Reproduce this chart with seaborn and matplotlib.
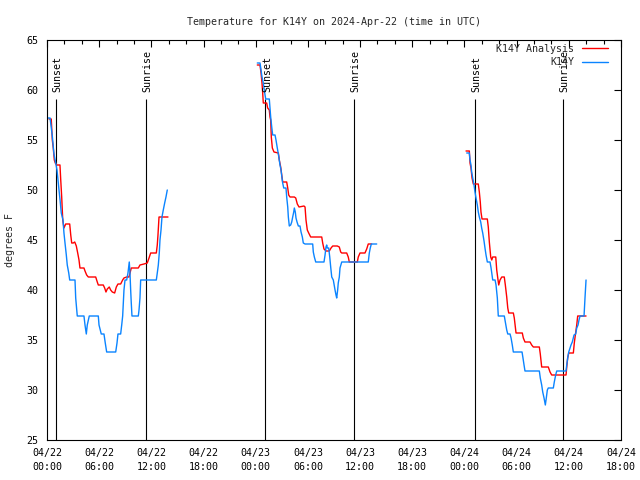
import numpy as np
import pandas as pd
import matplotlib
matplotlib.use("Agg")
import matplotlib.pyplot as plt
import matplotlib.transforms as mtransforms
from matplotlib.ticker import MultipleLocator
import seaborn as sns

# ---------------- data (hours since 04/22 00:00 UTC, degrees F) ----------------
obs_t1 = [0.12, 0.35, 0.61, 0.80, 1.00, 1.15, 1.38, 1.50, 1.64, 1.84, 1.95, 2.07, 2.22, 2.33, 2.50, 2.61,
          3.22, 3.30, 3.48, 4.25, 4.37, 4.52, 4.63, 4.86, 5.90, 5.98, 6.24, 6.55, 6.70, 6.86, 7.90, 8.05,
          8.16, 8.47, 8.59, 8.70, 8.85, 8.97, 9.16, 9.31, 9.46, 9.54, 9.62, 9.69, 9.77, 10.50, 10.58, 10.69,
          10.77, 12.57, 12.68, 12.80, 12.91, 12.99, 13.11, 13.22, 13.37, 13.53, 13.68, 13.83]
obs_v1 = [57.2, 57.2, 55.4, 53.6, 52.7, 52.0, 50.0, 49.0, 47.7, 47.0, 45.7, 44.7, 43.5, 42.5, 41.7, 41.0,
          41.0, 39.2, 37.4, 37.4, 36.5, 35.6, 36.5, 37.4, 37.4, 36.5, 35.6, 35.6, 34.7, 33.8, 33.8, 34.7,
          35.6, 35.6, 36.5, 37.4, 40.0, 41.0, 41.0, 41.7, 42.8, 41.7, 40.0, 38.7, 37.4, 37.4, 38.0, 39.2,
          41.0, 41.0, 41.7, 42.5, 43.7, 45.0, 46.0, 47.3, 48.0, 48.7, 49.3, 50.0]

ana_t1 = [0.23, 0.49, 0.61, 0.72, 0.84, 0.95, 1.12, 1.49, 1.58, 1.69, 1.81, 1.95, 2.15, 2.61, 2.73, 2.84,
          3.02, 3.19, 3.37, 3.53, 3.68, 3.79, 4.25, 4.37, 4.56, 4.75, 5.60, 5.78, 5.90, 6.47, 6.63, 6.78,
          6.93, 7.16, 7.32, 7.51, 7.78, 7.97, 8.16, 8.47, 8.70, 8.85, 9.16, 9.43, 9.69, 10.50, 10.69, 11.15,
          11.53, 11.73, 11.92, 12.57, 12.68, 12.76, 12.88, 13.91]
ana_v1 = [57.1, 57.1, 55.0, 54.2, 53.0, 52.7, 52.5, 52.5, 51.0, 49.3, 47.0, 46.2, 46.6, 46.6, 45.5, 44.7,
          44.7, 44.8, 44.4, 43.7, 43.0, 42.2, 42.2, 41.9, 41.5, 41.3, 41.3, 40.8, 40.5, 40.5, 40.2, 39.8,
          40.1, 40.3, 40.0, 39.8, 39.7, 40.3, 40.6, 40.6, 41.0, 41.2, 41.3, 41.3, 42.2, 42.2, 42.5, 42.6,
          42.7, 43.2, 43.7, 43.7, 44.5, 45.5, 47.3, 47.3]

obs_t2 = [24.18, 24.49, 24.61, 24.72, 24.87, 24.99, 25.07, 25.15, 25.56, 25.64, 25.72, 25.84, 25.95, 26.22,
          26.33, 26.48, 26.64, 26.79, 26.91, 27.02, 27.10, 27.22, 27.48, 27.56, 27.68, 27.75, 27.86, 28.02,
          28.14, 28.25, 28.37, 28.44, 28.55, 28.63, 28.75, 28.90, 29.09, 29.21, 29.36, 29.47, 29.67, 30.55,
          30.62, 30.74, 30.90, 31.85, 31.97, 32.08, 32.16, 32.23, 32.39, 32.51, 32.62, 32.74, 32.92, 33.12,
          33.23, 33.31, 33.42, 33.49, 33.61, 33.69, 33.89, 36.94, 37.06, 37.17, 37.29, 37.91]
obs_v2 = [62.7, 62.7, 62.0, 61.3, 60.7, 60.0, 59.5, 59.1, 59.1, 58.2, 57.3, 56.3, 55.5, 55.5,
          55.0, 54.2, 53.4, 52.5, 52.0, 51.2, 50.7, 50.2, 50.2, 49.3, 48.3, 47.3, 46.4, 46.5,
          46.8, 47.3, 47.8, 48.2, 47.8, 47.2, 46.8, 46.4, 46.4, 45.8, 45.3, 44.7, 44.6, 44.6,
          43.8, 43.3, 42.8, 42.8, 43.5, 44.3, 44.5, 44.2, 44.2, 43.3, 42.3, 41.3, 41.0, 40.0,
          39.5, 39.2, 40.0, 40.7, 41.3, 42.2, 42.8, 42.8, 43.7, 44.2, 44.6, 44.6]

ana_t2 = [24.18, 24.49, 24.61, 24.72, 24.80, 24.87, 25.26, 25.37, 25.56, 25.64, 25.72, 25.79, 25.91, 26.10,
          26.60, 26.71, 26.87, 26.99, 27.10, 27.56, 27.68, 27.79, 27.94, 28.44, 28.60, 28.78, 28.98, 29.55,
          29.67, 29.78, 29.93, 30.09, 30.32, 31.59, 31.70, 31.85, 32.08, 32.46, 32.66, 32.85, 33.38, 33.61,
          33.77, 33.89, 34.46, 34.64, 34.76, 35.22, 35.68, 35.79, 35.99, 36.56, 36.76, 36.94, 37.33]
ana_v2 = [62.5, 62.5, 61.7, 60.7, 59.7, 58.7, 58.7, 58.2, 58.0, 57.3, 57.0, 55.3, 54.2, 53.8,
          53.7, 53.0, 52.3, 51.5, 50.8, 50.8, 50.2, 49.5, 49.3, 49.3, 49.2, 48.6, 48.3, 48.4,
          48.3, 47.0, 46.0, 45.7, 45.3, 45.3, 44.7, 44.1, 43.9, 43.9, 44.2, 44.4, 44.4, 44.3,
          43.8, 43.7, 43.7, 43.3, 42.8, 42.8, 42.8, 43.3, 43.7, 43.7, 44.1, 44.6, 44.6]

obs_t3 = [48.26, 48.56, 48.64, 48.75, 48.83, 48.95, 49.10, 49.21, 49.33, 49.48, 49.59, 49.71, 49.87, 49.98,
          50.10, 50.25, 50.36, 50.48, 50.63, 50.94, 51.06, 51.14, 51.25, 51.52, 51.63, 51.78, 51.89, 52.58,
          52.70, 52.86, 52.98, 53.24, 53.36, 53.50, 53.62, 54.62, 54.73, 54.85, 54.96, 56.61, 56.72, 56.88,
          57.00, 57.15, 57.30, 57.41, 57.53, 57.64, 58.22, 58.33, 58.49, 58.61, 59.68, 59.76, 59.87, 59.99,
          60.14, 60.25, 60.40, 60.60, 60.79, 60.91, 61.06, 61.17, 61.29, 61.75, 61.86, 61.98]
obs_v3 = [53.7, 53.7, 53.0, 52.5, 51.8, 51.2, 50.5, 49.8, 49.2, 48.5, 47.8, 47.3, 46.8, 46.2,
          45.7, 44.9, 44.2, 43.5, 42.8, 42.8, 42.2, 41.7, 41.0, 41.0, 40.5, 39.2, 37.4, 37.4,
          36.8, 36.0, 35.6, 35.6, 35.2, 34.5, 33.8, 33.8, 33.2, 32.5, 31.9, 31.9, 31.2, 30.5,
          29.8, 29.2, 28.5, 29.2, 30.0, 30.2, 30.2, 30.8, 31.5, 31.9, 31.9, 32.5, 33.2, 33.8,
          34.2, 34.5, 34.8, 35.5, 35.6, 36.2, 36.5, 37.0, 37.4, 37.4, 39.2, 41.0]

ana_t3 = [48.18, 48.56, 48.64, 48.75, 48.87, 49.02, 49.59, 49.71, 49.82, 49.90, 50.02, 50.63, 50.74, 50.86,
          51.02, 51.14, 51.25, 51.60, 51.71, 51.83, 51.94, 52.09, 52.29, 52.58, 52.70, 52.86, 52.98, 53.09,
          53.62, 53.73, 53.85, 53.93, 54.65, 54.77, 54.96, 55.54, 55.73, 55.92, 56.61, 56.72, 56.88, 57.64,
          57.84, 58.03, 59.68, 59.76, 59.87, 59.99, 60.52, 60.63, 60.75, 60.91, 61.02, 61.98]
ana_v3 = [53.9, 53.9, 52.7, 52.2, 51.2, 50.6, 50.6, 49.8, 48.8, 47.8, 47.1, 47.1, 46.3, 44.8,
          43.3, 43.0, 43.3, 43.3, 42.0, 41.2, 40.5, 41.0, 41.3, 41.3, 40.5, 39.3, 38.2, 37.7,
          37.7, 37.2, 36.3, 35.7, 35.7, 35.2, 34.8, 34.8, 34.5, 34.3, 34.3, 33.6, 32.3, 32.3,
          31.8, 31.5, 31.5, 32.3, 33.2, 33.7, 33.7, 34.7, 35.5, 36.5, 37.4, 37.4]

sunset_hours = [1.07, 25.12, 49.25]
sunrise_hours = [11.33, 35.31, 59.35]

tick_hours = [0, 6, 12, 18, 24, 30, 36, 42, 48, 54, 60, 66]
tick_labels = ["04/22\n00:00", "04/22\n06:00", "04/22\n12:00", "04/22\n18:00",
               "04/23\n00:00", "04/23\n06:00", "04/23\n12:00", "04/23\n18:00",
               "04/24\n00:00", "04/24\n06:00", "04/24\n12:00", "04/24\n18:00"]
y_ticks = [25, 30, 35, 40, 45, 50, 55, 60, 65]

series_names = ["K14Y Analysis", "K14Y"]
series_colors = ["#ff0000", "#0a84ff"]

# ---------------- assemble ----------------
frames = []
for name, segs in [("K14Y Analysis", [(ana_t1, ana_v1), (ana_t2, ana_v2), (ana_t3, ana_v3)]),
                   ("K14Y", [(obs_t1, obs_v1), (obs_t2, obs_v2), (obs_t3, obs_v3)])]:
    for i, (t, v) in enumerate(segs):
        frames.append(pd.DataFrame({"hours": t, "temp": v, "series": name, "seg": i}))
df = pd.concat(frames, ignore_index=True)

sns.set_style("white")
plt.rcParams["font.family"] = ["DejaVu Sans Mono"]
plt.rcParams["font.size"] = 7.2
plt.rcParams["axes.edgecolor"] = "black"
plt.rcParams["axes.linewidth"] = 0.8

fig = plt.figure(figsize=(6.4, 4.8), dpi=100)
ax = fig.add_axes([47 / 640, 40 / 480, 574 / 640, 400 / 480])

sns.lineplot(data=df, x="hours", y="temp", hue="series", hue_order=series_names,
             palette=dict(zip(series_names, series_colors)), units="seg", estimator=None,
             sort=False, linewidth=1.0, ax=ax)

# sunset / sunrise markers
off = mtransforms.offset_copy(ax.transData, fig=fig, x=1.5, y=0, units="dots")
for hrs, lab in [(sunset_hours, "Sunset"), (sunrise_hours, "Sunrise")]:
    ax.vlines(hrs, 25, 59.1, color="black", linewidth=0.8, zorder=1)
    for h in hrs:
        ax.text(h, 59.8, lab, rotation=90, ha="center", va="bottom", transform=off,
                fontsize=7.2, color="black")

ax.set_xlim(0, 66)
ax.set_ylim(25, 65)
ax.set_xticks(tick_hours)
ax.set_xticklabels(tick_labels, linespacing=1.4)
ax.xaxis.set_minor_locator(MultipleLocator(2))
ax.set_yticks(y_ticks)
ax.set_yticklabels([str(v) for v in y_ticks])
ax.tick_params(which="both", direction="in", top=True, right=True, color="black",
               labelcolor="black", width=0.8)
ax.tick_params(which="major", length=5)
ax.tick_params(which="minor", length=3)
ax.tick_params(axis="x", which="major", pad=6)
ax.tick_params(axis="y", which="major", pad=6)

ax.set_xlabel("")
ax.set_ylabel("degrees F", fontsize=7.2)
ax.yaxis.set_label_coords(-0.056, 0.5)
ax.set_title("Temperature for K14Y on 2024-Apr-22 (time in UTC)", fontsize=7.2, pad=11)

handles, labels = ax.get_legend_handles_labels()
ax.legend(handles, labels, loc="upper right", bbox_to_anchor=(0.985, 1.0), frameon=False,
          markerfirst=False, handlelength=2.6, handletextpad=0.8, borderaxespad=0.0,
          labelspacing=0.35, fontsize=7.2)

fig.savefig("out.png", dpi=100)
